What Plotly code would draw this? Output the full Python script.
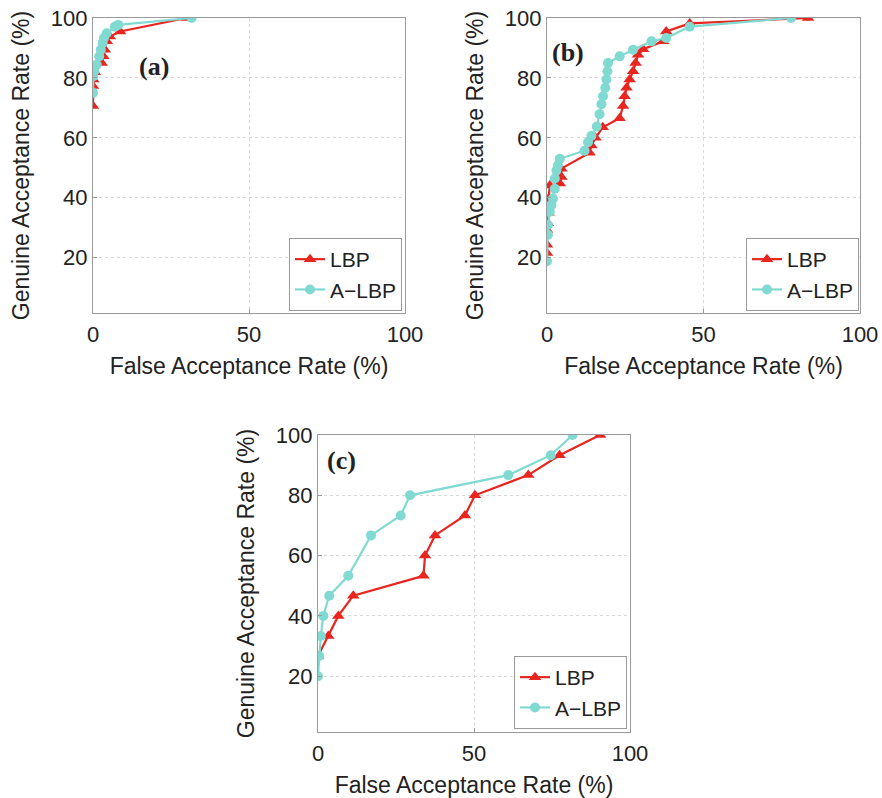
import plotly.graph_objects as go

# Panel (a)
a_lbp_x = [0, 0, 0.1, 0.6, 2.8, 3.3, 3.8, 4.4, 5.4, 8.7, 30]
a_lbp_y = [70.6, 77.3, 79.5, 81.9, 85, 87.2, 89.4, 92.2, 93.8, 95.5, 100]
a_albp_x = [0, 0.1, 0.4, 1.2, 2.0, 2.5, 3.1, 3.5, 4.4, 7.0, 8.1, 31.6]
a_albp_y = [75, 80.6, 82.2, 84.4, 87.2, 89.4, 91.6, 93.3, 94.9, 97.1, 97.7, 100]

# Panel (b)
b_lbp_x = [0, 0, 0, 0.3, 0.5, 0.5, 0.9, 4.1, 4.6, 4.6, 13.6, 14.2, 15.5, 17.8, 23.2, 24.3,
           24.8, 25.4, 26.4, 27.5, 28.3, 29.1, 30.7, 37.1, 38.1, 45.6, 83.4]
b_lbp_y = [21.5, 24.3, 29.2, 31.5, 35, 39.7, 44.1, 44.7, 46.9, 49.7, 55, 57.4, 60, 63.5, 66.5, 70.6,
           73.9, 76.7, 79.5, 82.2, 85, 87.7, 89.6, 92.2, 95.5, 98.2, 100]
b_albp_x = [0, 0.3, 0.3, 0.9, 1.4, 1.9, 2.5, 2.5, 3.0, 3.5, 4.1, 12.0, 13.1, 14.2, 15.9, 16.8,
            17.4, 17.9, 18.6, 19.0, 19.3, 19.5, 23.2, 27.5, 33.4, 38.1, 45.6, 78]
b_albp_y = [18.8, 27.6, 30.9, 35.3, 37.5, 39.7, 43, 46.4, 49.1, 50.8, 53, 55.7, 58.5, 60.7, 63.8, 67.9,
            71.2, 73.9, 76.7, 79.5, 82.2, 85, 87.2, 89.4, 92.2, 93.3, 97.1, 100]

# Panel (c)
c_lbp_x = [0, 3.3, 6.5, 11.3, 33.8, 34.3, 37.5, 47.1, 50.3, 67.4, 77.4, 90.4]
c_lbp_y = [26.7, 33.3, 40, 46.7, 53.3, 60, 66.7, 73.3, 80, 86.7, 93.3, 100]
c_albp_x = [0, 0.4, 0.9, 1.7, 3.6, 9.7, 17.0, 26.5, 29.5, 61.0, 74.6, 81.6]
c_albp_y = [20, 26.7, 33.3, 40, 46.7, 53.3, 66.7, 73.3, 80, 86.7, 93.3, 100]

x_ticks = [0, 50, 100]
y_ticks = [20, 40, 60, 80, 100]
panel_labels = ["(a)", "(b)", "(c)"]
series_names = ["LBP", "A\u2212LBP"]

RED = "#e8251f"
CYAN = "#80dad2"
W, H = 882, 798

# pixel boxes: (left, right, top, bottom)
boxes = [(93, 405, 18, 313), (547, 860, 18, 313), (318, 630, 435, 732)]
legend_boxes = [(402, 311), (859, 311), (627, 729)]
label_pos = [(137, 50), (568, 36), (341, 460)]

data = [
    (a_lbp_x, a_lbp_y, a_albp_x, a_albp_y),
    (b_lbp_x, b_lbp_y, b_albp_x, b_albp_y),
    (c_lbp_x, c_lbp_y, c_albp_x, c_albp_y),
]

fig = go.Figure()
layout = dict(
    width=W, height=H, margin=dict(l=0, r=0, t=0, b=0, autoexpand=False),
    paper_bgcolor="white", plot_bgcolor="white",
    font=dict(family="Liberation Sans, Arial, sans-serif", size=22, color="#222"),
    annotations=[], showlegend=True,
)

for i, (lx, ly, ax_, ay_) in enumerate(data):
    n = "" if i == 0 else str(i + 1)
    leg = "legend" if i == 0 else "legend" + str(i + 1)
    fig.add_trace(go.Scatter(
        x=lx, y=ly, name=series_names[0], mode="lines+markers",
        line=dict(color=RED, width=2.2),
        marker=dict(symbol="triangle-up", size=11, color=RED),
        xaxis="x" + n, yaxis="y" + n, legend=leg))
    fig.add_trace(go.Scatter(
        x=ax_, y=ay_, name=series_names[1], mode="lines+markers",
        line=dict(color=CYAN, width=2.2),
        marker=dict(symbol="circle", size=10, color=CYAN),
        xaxis="x" + n, yaxis="y" + n, legend=leg))

    l, r, t, b = boxes[i]
    axcommon = dict(showline=True, linecolor="#9a9a9a", linewidth=1.2, mirror=True,
                    showgrid=True, gridcolor="#d8d8d8", griddash="dot", gridwidth=1,
                    ticks="inside", ticklen=4, tickcolor="#9a9a9a", zeroline=False,
                    automargin=False,
                    tickfont=dict(size=22, color="#222"))
    layout["xaxis" + n] = dict(
        axcommon, domain=[l / W, r / W], range=[0, 100], tickvals=x_ticks,
        anchor="y" + n, ticklabelstandoff=1,
        title=dict(text="False Acceptance Rate (%)", font=dict(size=23, color="#222"), standoff=12))
    layout["yaxis" + n] = dict(
        axcommon, domain=[1 - b / H, 1 - t / H], range=[1.5, 100], tickvals=y_ticks,
        anchor="x" + n,
        title=dict(text="Genuine Acceptance Rate (%)", font=dict(size=23, color="#222"), standoff=14))
    lxp, lyp = legend_boxes[i]
    layout[leg] = dict(x=lxp / W, y=1 - lyp / H, xanchor="right", yanchor="bottom",
                       bgcolor="white", bordercolor="#9a9a9a", borderwidth=1,
                       font=dict(size=21, color="#222"), tracegroupgap=0,
                       itemwidth=30)
    px_, py_ = label_pos[i]
    layout["annotations"].append(dict(
        text="<b>" + panel_labels[i] + "</b>", x=px_ / W, y=1 - py_ / H,
        xref="paper", yref="paper", showarrow=False,
        font=dict(family="Liberation Serif, Times New Roman, serif", size=26, color="#222")))

fig.update_layout(**layout)
fig.write_html("out.html", config={"displayModeBar": False},
               post_script="document.body.style.margin='0px';document.body.style.overflow='hidden';")
